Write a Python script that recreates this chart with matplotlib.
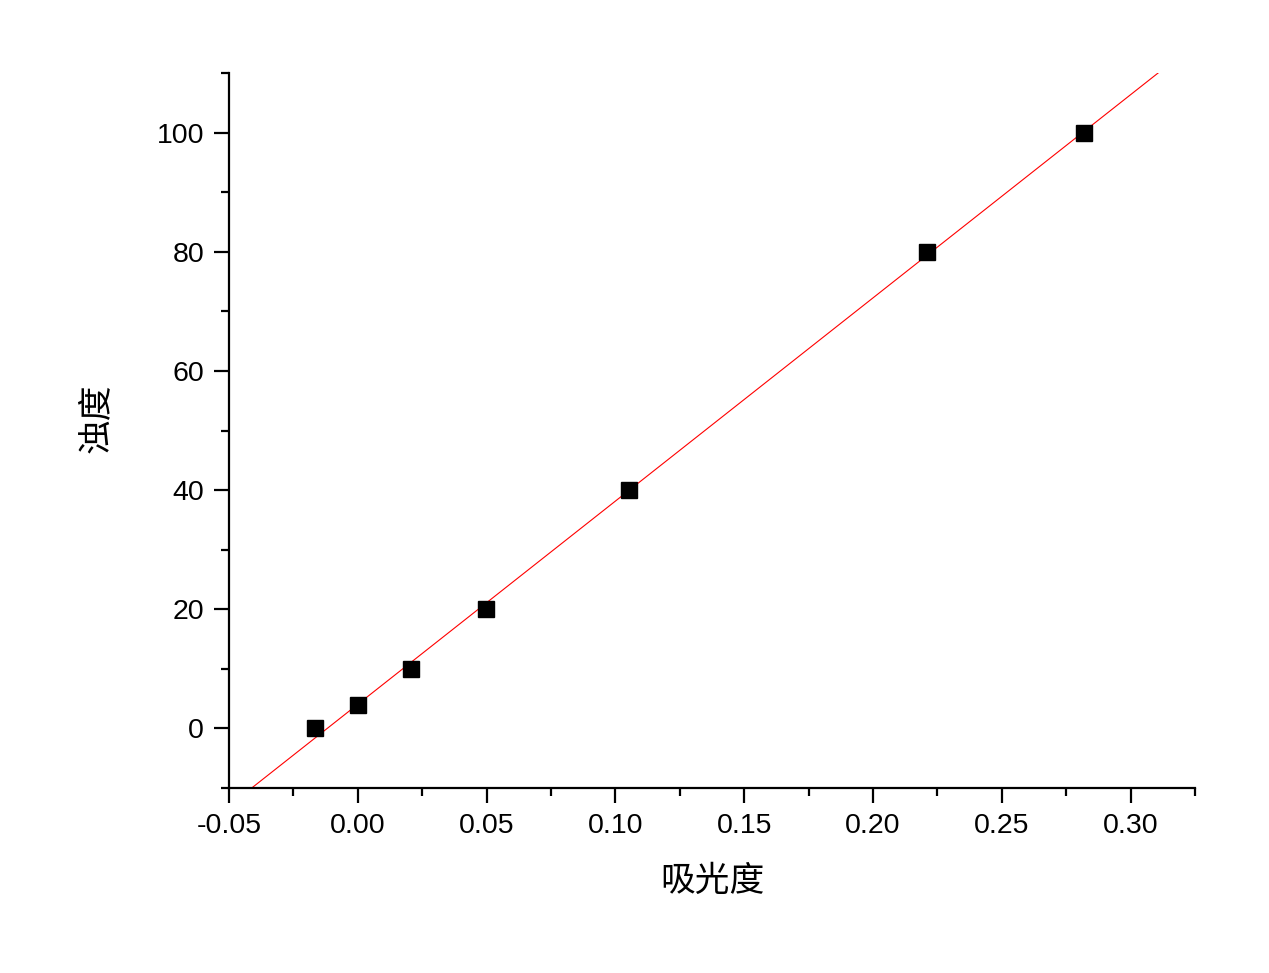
import numpy as np
import matplotlib
matplotlib.use('Agg')
import matplotlib.pyplot as plt
from matplotlib.ticker import MultipleLocator, FormatStrFormatter

# absorbance vs turbidity
absorbance = [-0.0165, 0.0, 0.0205, 0.0497, 0.1053, 0.2209, 0.2818]
turbidity = [0, 4, 10, 20, 40, 80, 100]

x_label = '吸光度'
y_label = '浊度'

plt.rcParams['font.family'] = ['Liberation Sans', 'Noto Sans CJK SC', 'DejaVu Sans']

fig = plt.figure(figsize=(12.69, 9.73), dpi=100)
ax = fig.add_axes([229 / 1269, 1 - 788 / 973, (1195 - 229) / 1269, (788 - 73) / 973])

# linear fit
slope, intercept = np.polyfit(absorbance, turbidity, 1)
xfit = np.array([-0.05, 0.325])
ax.plot(xfit, slope * xfit + intercept, color='red', lw=0.8, zorder=2)

ax.plot(absorbance, turbidity, 's', color='black', markersize=11, zorder=3)

ax.set_xlim(-0.05, 0.325)
ax.set_ylim(-10, 110)

ax.spines['top'].set_visible(False)
ax.spines['right'].set_visible(False)
for s in ['left', 'bottom']:
    ax.spines[s].set_linewidth(1.6)

ax.xaxis.set_major_locator(MultipleLocator(0.05))
ax.xaxis.set_minor_locator(MultipleLocator(0.025))
ax.xaxis.set_major_formatter(FormatStrFormatter('%.2f'))
ax.yaxis.set_major_locator(MultipleLocator(20))
ax.yaxis.set_minor_locator(MultipleLocator(10))

ax.tick_params(which='major', direction='out', length=11, width=1.6, labelsize=20.5, pad=7)
ax.tick_params(which='minor', direction='out', length=5.5, width=1.6)

ax.set_xlabel(x_label, fontsize=25, family=['Noto Sans CJK SC'], labelpad=18)
ax.set_ylabel(y_label, fontsize=25, family=['Noto Sans CJK SC'])
ax.yaxis.set_label_coords(-0.119, 0.517)

fig.savefig('out.png', dpi=100)
